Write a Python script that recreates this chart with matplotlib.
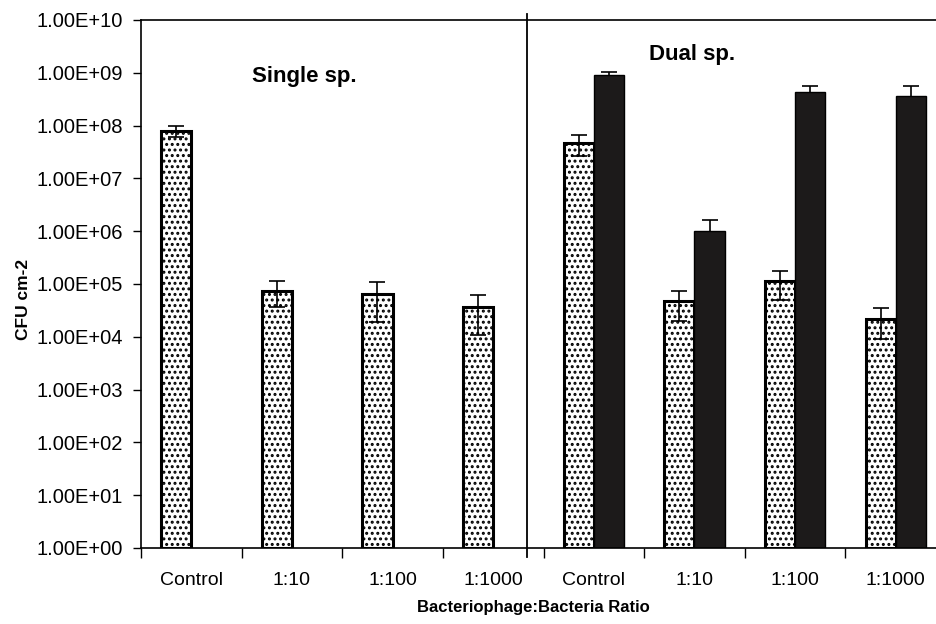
import numpy as np
import matplotlib
matplotlib.use("Agg")
import matplotlib.pyplot as plt
from matplotlib.lines import Line2D
import matplotlib.transforms as mtransforms

plt.rcParams['font.family'] = ['Liberation Sans', 'DejaVu Sans']
plt.rcParams['hatch.linewidth'] = 1.4

# ---------------- data ----------------
ratios = ["Control", "1:10", "1:100", "1:1000"]
tick_labels = ratios + ratios

single_sp = [8.0e7, 7.5e4, 6.4e4, 3.6e4]
single_err = [2.0e7, 3.8e4, 4.5e4, 2.5e4]

dual_stip = [4.6e7, 4.7e4, 1.15e5, 2.2e4]
dual_stip_err = [2.0e7, 2.7e4, 6.5e4, 1.3e4]

dual_black = [9.0e8, 1.03e6, 4.4e8, 3.6e8]
dual_black_err = [1.3e8, 6.0e5, 1.3e8, 2.1e8]

# ---------------- plot ----------------
fig = plt.figure(figsize=(9.36, 6.24), dpi=100)
ax = fig.add_axes([0.1506, 0.1218, 0.8494, 0.8462])

w = 0.3
x_single = np.arange(4) + 0.5
x_dual = np.arange(4) + 4.5

stip_x = np.concatenate([x_single, x_dual]) - w / 2
stip_vals = single_sp + dual_stip
stip_err = single_err + dual_stip_err

ax.bar(stip_x, stip_vals, width=w, bottom=1, color="white", edgecolor="black",
       linewidth=2.2, hatch="...", zorder=2)
ax.bar(x_dual + w / 2, dual_black, width=w, bottom=1, color="#1c1a1a",
       edgecolor="black", linewidth=1, zorder=2)

ax.errorbar(stip_x, stip_vals, yerr=stip_err, fmt="none", ecolor="black",
            elinewidth=1.2, capsize=6, capthick=1.2, zorder=3)
# black bars: lower whisker hides behind the bar
ax.errorbar(x_dual + w / 2, dual_black, yerr=dual_black_err, fmt="none",
            ecolor="black", elinewidth=1.2, capsize=6, capthick=1.2, zorder=1)

ax.set_yscale("log")
ax.set_ylim(1, 1e10)
ax.set_xlim(0, 7.9)

yt = [10.0 ** k for k in range(11)]
ax.set_yticks(yt)
ax.set_yticklabels(["1.00E+%02d" % k for k in range(11)], fontsize=14.5)
ax.yaxis.set_minor_locator(matplotlib.ticker.NullLocator())
ax.tick_params(axis="y", direction="out", length=6, width=1, pad=7)

ax.set_xticks(np.arange(8))
ax.set_xticklabels([])
ax.set_xticks(np.arange(8) + 0.5, minor=True)
ax.set_xticklabels(tick_labels, minor=True, fontsize=14)
ax.tick_params(axis="x", which="major", direction="out", length=7, width=1)
ax.tick_params(axis="x", which="minor", length=0, pad=17)

ax.spines["right"].set_visible(False)
for s in ["left", "top", "bottom"]:
    ax.spines[s].set_linewidth(1.2)

# divider between single and dual species
trans = mtransforms.blended_transform_factory(ax.transData, ax.transAxes)
ax.add_line(Line2D([3.837, 3.837], [-0.017, 1.011], transform=trans,
                   color="black", linewidth=1.3, clip_on=False))

ax.text(0.206, 0.892, "Single sp.", transform=ax.transAxes, fontsize=16,
        fontweight="bold", ha="center", va="center")
ax.text(0.693, 0.934, "Dual sp.", transform=ax.transAxes, fontsize=16,
        fontweight="bold", ha="center", va="center")

ax.set_ylabel("CFU cm-2", fontsize=12.5, fontweight="bold")
ax.yaxis.set_label_coords(-0.138, 0.47)
fig.text(0.57, 0.027, "Bacteriophage:Bacteria Ratio", fontsize=12,
         fontweight="bold", ha="center", va="center")

plt.savefig("out.png", dpi=100)
